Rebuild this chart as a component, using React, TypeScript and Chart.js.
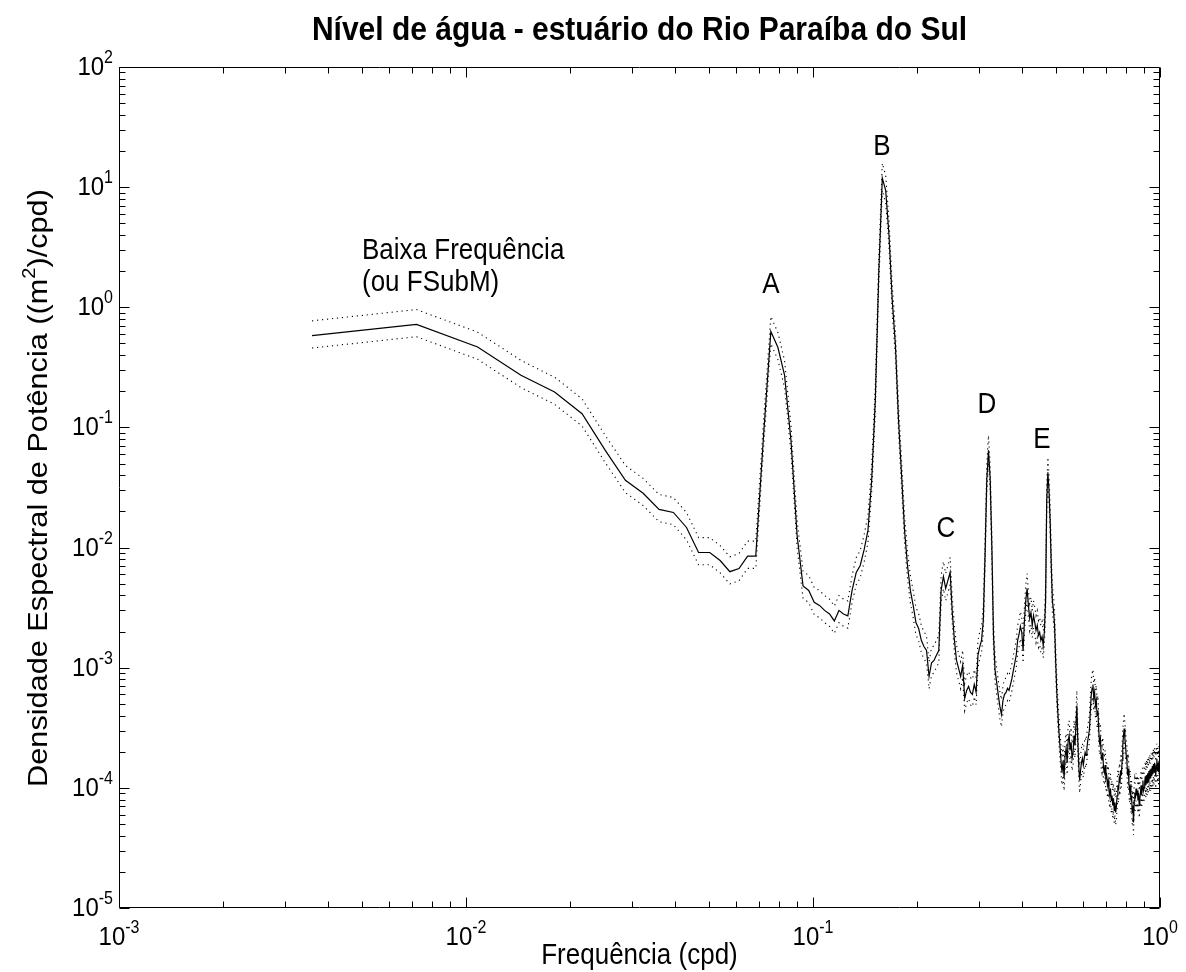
import React, { useEffect, useRef } from "react";
import { Chart, registerables } from "chart.js";

Chart.register(...registerables);

const FONT = '"Liberation Sans", Arial, Helvetica, sans-serif';

const chartTitle = "Nível de água - estuário do Rio Paraíba do Sul";
const xAxisTitle = "Frequência (cpd)";
const yAxisTitleParts = ["Densidade Espectral de Potência ((m", "2", ")/cpd)"];

// spectral resolution (cpd) of the periodogram
const freqStep = 0.0036;

// PSD (m^2/cpd), harmonics 1..40
const psdLowBand = [
  0.58, 0.72, 0.467, 0.272, 0.197, 0.13, 0.0644, 0.0363, 0.0283, 0.0208,
  0.0196, 0.0147, 0.0091, 0.0091, 0.0078, 0.0063, 0.0067, 0.0085, 0.0085, 0.084,
  0.63, 0.465, 0.272, 0.078, 0.0126, 0.0048, 0.0044, 0.0035, 0.0033, 0.003,
  0.0028, 0.00245, 0.003, 0.0028, 0.0027, 0.0044, 0.0062, 0.0071, 0.0096, 0.0139,
];

// harmonics 41..140 (peaks B, C, D, E)
const psdTidalBand = [
  0.0363, 0.168, 2.03, 11.9, 9.4, 3.98, 1.14, 0.483, 0.1146, 0.0399,
  0.0139, 0.0071, 0.0044, 0.0033, 0.00238, 0.00212, 0.00169, 0.0015, 0.00139, 0.000845,
  0.0011, 0.00115, 0.00127, 0.00139, 0.0044, 0.00576, 0.00457, 0.00533, 0.00622, 0.00289,
  0.00169, 0.00115, 0.000986, 0.000845, 0.00105, 0.000555, 0.000647, 0.000699, 0.000622, 0.000599,
  0.000726, 0.000622, 0.00127, 0.0015, 0.00169, 0.00248, 0.00861, 0.0363, 0.0644, 0.0377,
  0.0104, 0.00186, 0.00095, 0.000755, 0.000588, 0.000476, 0.000408, 0.000535, 0.0006, 0.000622,
  0.000673, 0.000647, 0.000726, 0.000814, 0.00095, 0.0011, 0.00127, 0.00169, 0.00189, 0.00221,
  0.00197, 0.00139, 0.00248, 0.00363, 0.00457, 0.0033, 0.00257, 0.00289, 0.00225, 0.00272,
  0.00238, 0.00204, 0.00225, 0.00186, 0.00197, 0.00169, 0.00182, 0.00153, 0.00204, 0.00363,
  0.0247, 0.0423, 0.0299, 0.0168, 0.0071, 0.00363, 0.003, 0.00225, 0.00115, 0.000647,
];

// harmonics 141..277
const psdHighBand = [
  0.000425, 0.000301, 0.000225, 0.000169, 0.000134, 0.000169, 0.00012, 0.000186, 0.000213, 0.000163,
  0.000248, 0.000273, 0.000205, 0.000239, 0.000176, 0.000197, 0.000273, 0.000225, 0.00033, 0.000485,
  0.000248, 0.000155, 0.000115, 0.00014, 0.000163, 0.000176, 0.000155, 0.000176, 0.000197, 0.000186,
  0.000213, 0.000248, 0.000273, 0.000312, 0.000441, 0.000588, 0.000673, 0.000726, 0.000555, 0.000622,
  0.000485, 0.000535, 0.0004, 0.000441, 0.000301, 0.000239, 0.000258, 0.000186, 0.000169, 0.000197,
  0.000145, 0.000134, 0.000155, 0.00012, 0.000127, 0.000105, 0.000115, 0.0000951, 0.0000863, 0.0000989,
  0.0000785, 0.0000863, 0.0000713, 0.0000818, 0.0000648, 0.0000756, 0.0000624, 0.0000699, 0.0000863, 0.000105,
  0.0000951, 0.00012, 0.00011, 0.00014, 0.000127, 0.000169, 0.000225, 0.000273, 0.000312, 0.000258,
  0.000225, 0.000186, 0.000169, 0.000127, 0.000145, 0.00011, 0.0000951, 0.000105, 0.0000785, 0.0000863,
  0.0000624, 0.0000713, 0.0000514, 0.0000785, 0.0000905, 0.0000818, 0.0000989, 0.0000863, 0.0000951, 0.0000785,
  0.0000905, 0.0000713, 0.0000818, 0.0000905, 0.000105, 0.0000863, 0.0000989, 0.000115, 0.0000951, 0.0001,
  0.000112, 0.000125, 0.000105, 0.000128, 0.00011, 0.000132, 0.000112, 0.000138, 0.000118, 0.000142,
  0.00012, 0.000145, 0.000125, 0.000152, 0.00013, 0.000158, 0.000135, 0.000162, 0.000145, 0.000125,
  0.000155, 0.000175, 0.00014, 0.000162, 0.000135, 0.000168, 0.000155,
];

// 95% confidence limits relative to the estimate
const ciUpperFactor = 1.33;
const ciLowerFactor = 0.79;

const xDecades = [-3, -2, -1, 0];
const yDecades = [2, 1, 0, -1, -2, -3, -4, -5];

const peakNames = ["A", "B", "C", "D", "E"];
const lowFreqNote = ["Baixa Frequência", "(ou FSubM)"];

const TEXT_K = 1.1; // vertical stretch of the reference's lettering

function drawText(ctx: CanvasRenderingContext2D, text: string, x: number, y: number, font: string, align: CanvasTextAlign) {
  ctx.save();
  ctx.translate(x, y);
  ctx.scale(1, TEXT_K);
  ctx.font = font;
  ctx.textAlign = align;
  ctx.textBaseline = "alphabetic";
  ctx.fillText(text, 0, 0);
  ctx.restore();
}

function drawPow(ctx: CanvasRenderingContext2D, exp: number, x: number, y: number, align: "right" | "center") {
  const baseFont = `24px ${FONT}`;
  const supFont = `16px ${FONT}`;
  ctx.font = baseFont;
  const wb = ctx.measureText("10").width;
  ctx.font = supFont;
  const es = String(exp);
  const we = ctx.measureText(es).width;
  const total = wb + we;
  const sx = align === "right" ? x - total : x - total / 2;
  drawText(ctx, "10", sx, y, baseFont, "left");
  drawText(ctx, es, sx + wb, y - 12, supFont, "left");
}

const matlabAxes = {
  id: "matlabAxes",
  afterDraw(chart: any) {
    const { ctx, chartArea: a, scales } = chart;
    const xs = scales.x;
    const ys = scales.y;
    ctx.save();
    ctx.fillStyle = "#000";
    ctx.strokeStyle = "#000";
    ctx.lineWidth = 1;
    const L = Math.round(a.left) + 0.5;
    const R = Math.round(a.right) - 0.5;
    const T = Math.round(a.top) + 0.5;
    const B = Math.round(a.bottom) - 0.5;
    ctx.beginPath();
    ctx.rect(L, T, R - L, B - T);
    ctx.stroke();

    ctx.beginPath();
    xDecades.forEach((e) => {
      for (let m = 1; m <= 9; m++) {
        if (e === 0 && m > 1) break;
        const v = m * Math.pow(10, e);
        const px = Math.round(xs.getPixelForValue(v)) + 0.5;
        const len = m === 1 ? 10 : 6;
        ctx.moveTo(px, B);
        ctx.lineTo(px, B - len);
        ctx.moveTo(px, T);
        ctx.lineTo(px, T + len);
      }
    });
    yDecades.forEach((e) => {
      for (let m = 1; m <= 9; m++) {
        if (e === 2 && m > 1) break;
        const v = m * Math.pow(10, e);
        const py = Math.round(ys.getPixelForValue(v)) + 0.5;
        const len = m === 1 ? 10 : 6;
        ctx.moveTo(L, py);
        ctx.lineTo(L + len, py);
        ctx.moveTo(R, py);
        ctx.lineTo(R - len, py);
      }
    });
    ctx.stroke();

    yDecades.forEach((e) => {
      const py = ys.getPixelForValue(Math.pow(10, e));
      drawPow(ctx, e, a.left - 6, py + 8, "right");
    });
    xDecades.forEach((e) => {
      const px = xs.getPixelForValue(Math.pow(10, e));
      drawPow(ctx, e, px, a.bottom + 37, "center");
    });

    drawText(ctx, chartTitle, (a.left + a.right) / 2, 40, `bold 30px ${FONT}`, "center");
    drawText(ctx, xAxisTitle, (a.left + a.right) / 2, 964, `26px ${FONT}`, "center");

    // rotated y title with superscript
    ctx.save();
    ctx.translate(47, 488);
    ctx.rotate(-Math.PI / 2);
    ctx.scale(1.18, 1.05);
    const f1 = `26px ${FONT}`;
    const f2 = `17px ${FONT}`;
    ctx.font = f1;
    const w1 = ctx.measureText(yAxisTitleParts[0]).width;
    const w3 = ctx.measureText(yAxisTitleParts[2]).width;
    ctx.font = f2;
    const w2 = ctx.measureText(yAxisTitleParts[1]).width;
    let sx = -(w1 + w2 + w3) / 2;
    ctx.textBaseline = "alphabetic";
    ctx.textAlign = "left";
    ctx.font = f1;
    ctx.fillText(yAxisTitleParts[0], sx, 0);
    sx += w1;
    ctx.font = f2;
    ctx.fillText(yAxisTitleParts[1], sx, -11);
    sx += w2;
    ctx.font = f1;
    ctx.fillText(yAxisTitleParts[2], sx, 0);
    ctx.restore();

    const annFont = `26px ${FONT}`;
    const peakPos = [
      [771, 293],
      [882, 155],
      [946, 537],
      [987, 413],
      [1042, 448],
    ];
    peakNames.forEach((n, i) => drawText(ctx, n, peakPos[i][0], peakPos[i][1], annFont, "center"));
    drawText(ctx, lowFreqNote[0], 362, 259, annFont, "left");
    drawText(ctx, lowFreqNote[1], 362, 291, annFont, "left");

    ctx.restore();
  },
};

export default function App() {
  const ref = useRef<HTMLCanvasElement | null>(null);
  useEffect(() => {
    const canvas = ref.current;
    if (!canvas) return;
    const psd = [...psdLowBand, ...psdTidalBand, ...psdHighBand];
    const freqs = psd.map((_, i) => (i + 1) * freqStep);
    const pts = (vals: number[]) => vals.map((v, i) => ({ x: freqs[i], y: v }));
    const upper = psd.map((v) => v * ciUpperFactor);
    const lower = psd.map((v) => v * ciLowerFactor);
    const chart = new Chart(canvas, {
      type: "line",
      data: {
        datasets: [
          { data: pts(upper), borderColor: "#000", borderWidth: 1.1, borderDash: [1.2, 3.8], pointRadius: 0, fill: false, tension: 0 },
          { data: pts(lower), borderColor: "#000", borderWidth: 1.1, borderDash: [1.2, 3.8], pointRadius: 0, fill: false, tension: 0 },
          { data: pts(psd), borderColor: "#000", borderWidth: 1.2, pointRadius: 0, fill: false, tension: 0 },
        ],
      },
      options: {
        responsive: false,
        animation: false,
        events: [],
        layout: { padding: { left: 119, right: 26, top: 67, bottom: 64 } },
        scales: {
          x: { type: "logarithmic", min: 0.001, max: 1, display: false },
          y: { type: "logarithmic", min: 1e-5, max: 100, display: false },
        },
        plugins: {
          legend: { display: false },
          title: { display: false },
          tooltip: { enabled: false },
        },
      },
      plugins: [matlabAxes],
    });
    return () => chart.destroy();
  }, []);
  return (
    <div style={{ position: "absolute", left: 0, top: 0, width: 1186, height: 972, background: "#fff" }}>
      <canvas ref={ref} width={1186} height={972} style={{ display: "block", width: 1186, height: 972 }} />
    </div>
  );
}
